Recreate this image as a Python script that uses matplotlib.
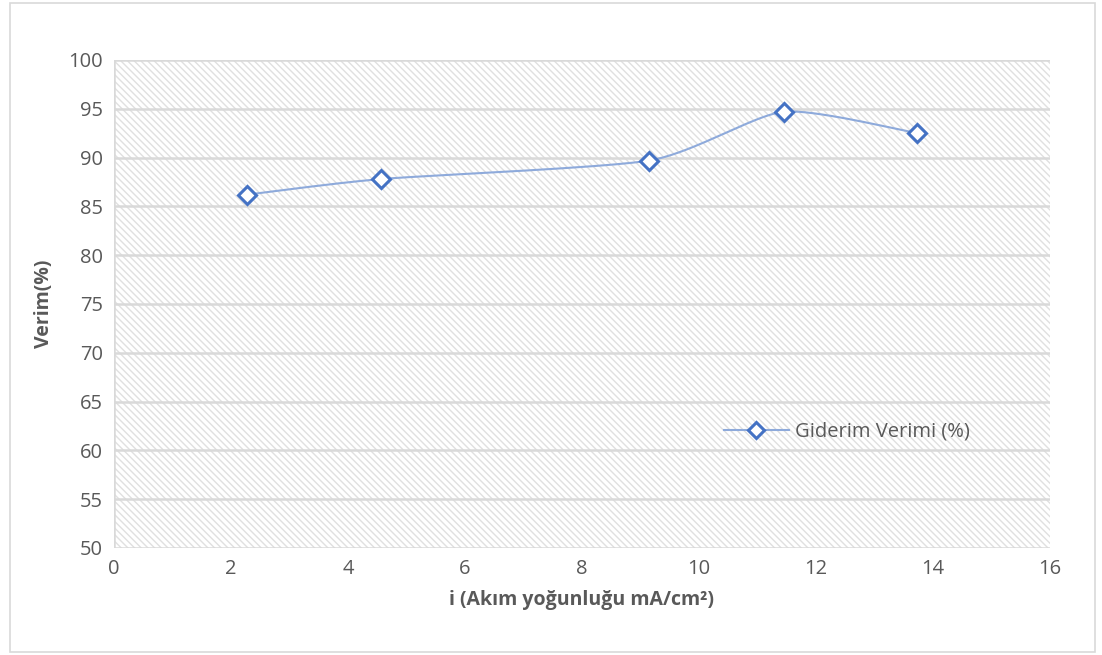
import numpy as np
import matplotlib
matplotlib.use("Agg")
import matplotlib.pyplot as plt
from matplotlib.patches import Rectangle
from matplotlib.lines import Line2D

x_vals = [2.27, 4.56, 9.15, 11.45, 13.73]
y_vals = [86.2, 87.8, 89.7, 94.7, 92.5]
series_name = "Giderim Verimi (%)"
x_label = "i (Akım yoğunluğu mA/cm²)"
y_label = "Verim(%)"
x_ticks = list(range(0, 17, 2))
y_ticks = list(range(50, 101, 5))

plt.rcParams['font.family'] = ['Open Sans', 'DejaVu Sans']
plt.rcParams['hatch.linewidth'] = 1.0

fig = plt.figure(figsize=(11.02, 6.55), dpi=100)
fig.patch.set_facecolor('white')
fig.add_artist(Rectangle((0.009, 0.005), 0.985, 0.99, transform=fig.transFigure,
                         fill=False, edgecolor='#d9d9d9', lw=1.2))

ax = fig.add_axes([0.1034, 0.1634, 0.8494, 0.745])
ax.set_xlim(0, 16)
ax.set_ylim(50, 100)
ax.add_patch(Rectangle((0, 50), 16, 50, facecolor='white', edgecolor='#e0e0e0',
                       linewidth=0, hatch='\\\\\\\\\\', zorder=0.5))
for yt in y_ticks:
    ax.axhline(yt, color='#d9d9d9', lw=1.8, zorder=1)
for s in ax.spines.values():
    s.set_visible(False)
ax.axvline(0, color='#d9d9d9', lw=1.8, zorder=1)

# Catmull-Rom style smoothed line (Excel-like)
def smooth_curve(xs, ys, n=40, tension=0.66):
    P = np.column_stack([xs, ys])
    P = np.vstack([P[0], P, P[-1]])
    out = []
    for i in range(1, len(P) - 2):
        p0, p1, p2, p3 = P[i - 1], P[i], P[i + 1], P[i + 2]
        t = np.linspace(0, 1, n)[:, None]
        m1 = (p2 - p0) / 2 * tension
        m2 = (p3 - p1) / 2 * tension
        h00 = 2*t**3 - 3*t**2 + 1
        h10 = t**3 - 2*t**2 + t
        h01 = -2*t**3 + 3*t**2
        h11 = t**3 - t**2
        out.append(h00*p1 + h10*m1 + h01*p2 + h11*m2)
    return np.vstack(out)

curve = smooth_curve(x_vals, y_vals)
ax.plot(curve[:, 0], curve[:, 1], color='#8eaadb', lw=1.5, zorder=2)
ax.plot(x_vals, y_vals, linestyle='none', marker='D', markersize=9,
        markerfacecolor='white', markeredgecolor='#4472c4', markeredgewidth=2.2, zorder=3)

ax.set_xticks(x_ticks)
ax.set_yticks(y_ticks)
ax.tick_params(length=0, labelsize=14.5, colors='#595959', pad=8)
ax.set_xlabel(x_label, fontsize=14, fontweight='bold', color='#595959', labelpad=8)
ax.set_ylabel(y_label, fontsize=14, fontweight='bold', color='#595959', labelpad=10)

handle = Line2D([], [], color='#8eaadb', lw=1.5, marker='D', markersize=8,
                markerfacecolor='white', markeredgecolor='#4472c4', markeredgewidth=2.2)
leg = ax.legend([handle], [series_name], loc='center', bbox_to_anchor=(0.783, 0.238),
                frameon=False, fontsize=14.5, handlelength=3.2, handletextpad=0.3)
for t in leg.get_texts():
    t.set_color('#595959')

fig.savefig('out.png', dpi=100, facecolor='white')
